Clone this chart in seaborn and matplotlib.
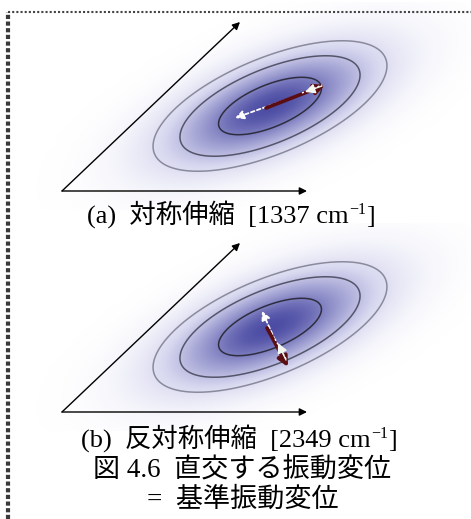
import numpy as np
import pandas as pd
import matplotlib.pyplot as plt
from matplotlib.colors import LinearSegmentedColormap
import seaborn as sns

sns.set_style('white')
plt.rcParams['font.family'] = ['Liberation Serif', 'Noto Sans CJK JP']

# データ (ピクセル座標, 上が y=0)
panel_labels = ['(a)', '(b)']
mode_names = ['対称伸縮', '反対称伸縮']
wavenumbers = [1337, 2349]
panel_shift = [0, 221]

axis_origin = (62, 191)
axis_x_tip = (307, 191)
axis_oblique_tip = (240, 22)

cloud_centres = [(270, 106), (270, 327)]
cloud_semi_axes = (125, 48)
cloud_angle = 22.5
contour_radii = [0.44, 0.77, 1.0]
contour_colors = ['#2e2e40', '#55556a', '#8a8a9c']

red_arrows = [((266, 108), (325, 85)), ((267, 328), (288, 367))]
white_arrows = [((302, 94), (235, 118)), ((275, 340), (262, 311))]
white_tails = [((322, 86), (305, 92)), ((286, 360), (278, 343))]

caption_base = [223, 447]
caption_x = [231, 239]
figure_title = ['図 4.6  直交する振動変位', '=  基準振動変位']
figure_title_y = [470, 500]
figure_title_x = [242, 243]

# 枠線
frame = pd.DataFrame({'x': [8, 8, 471], 'y': [519, 12, 12]})

fig = plt.figure(figsize=(4.71, 5.19), dpi=100)
ax = fig.add_axes([0, 0, 1, 1])
ax.set_xlim(0, 471)
ax.set_ylim(519, 0)
ax.axis('off')
renderer = fig.canvas.get_renderer()

cmap = LinearSegmentedColormap.from_list('cloud', ['#ffffff', '#d4d4ee', '#9494cc', '#4c4ca4'])

xs = np.arange(30, 471, 1.0)
for i in range(2):
    cx, cy = cloud_centres[i]
    ys = np.arange(cy - 104, cy + 104, 1.0)
    X, Y = np.meshgrid(xs, ys)
    t = np.deg2rad(cloud_angle)
    dx, dy = X - cx, -(Y - cy)
    u = dx * np.cos(t) + dy * np.sin(t)
    v = -dx * np.sin(t) + dy * np.cos(t)
    r = np.sqrt((u / cloud_semi_axes[0]) ** 2 + (v / cloud_semi_axes[1]) ** 2)
    Z = np.exp(-(r / 0.85) ** 2)
    ax.pcolormesh(X, Y, Z, cmap=cmap, vmin=0, vmax=1, shading='auto', rasterized=True, zorder=1)
    ax.contour(X, Y, r, levels=contour_radii, colors=contour_colors, linewidths=1.1, zorder=2)

    s = panel_shift[i]
    o = (axis_origin[0], axis_origin[1] + s)
    for tip in [axis_x_tip, axis_oblique_tip]:
        ax.annotate('', xy=(tip[0], tip[1] + s), xytext=o,
                    arrowprops=dict(arrowstyle='-|>', lw=1.0, color='black',
                                    mutation_scale=11, shrinkA=0, shrinkB=0), zorder=3)

    # 変位ベクトル
    w0, w1 = white_arrows[i]
    ax.annotate('', xy=w1, xytext=w0,
                arrowprops=dict(arrowstyle='-|>', lw=1.3, color='white', linestyle=(0, (2, 1.5)),
                                mutation_scale=13, shrinkA=0, shrinkB=0), zorder=4)
    a0, a1 = red_arrows[i]
    ax.annotate('', xy=a1, xytext=a0,
                arrowprops=dict(arrowstyle='-|>', lw=2.6, color='#5a0d12',
                                mutation_scale=15, shrinkA=0, shrinkB=0), zorder=5)
    t0, t1 = white_tails[i]
    ax.plot([w0[0], t0[0]], [w0[1] - 1, t0[1] - 1],
            color='white', lw=1.0, ls=(0, (1.5, 1.5)), zorder=6)
    ax.annotate('', xy=t1, xytext=t0,
                arrowprops=dict(arrowstyle='-|>', lw=1.0, color='#f2f6ee',
                                mutation_scale=15, shrinkA=0, shrinkB=0), zorder=6)

    # キャプション (上付き -1 を別に配置)
    parts = [(f'{panel_labels[i]}  {mode_names[i]}  [{wavenumbers[i]} cm', 19, 0),
             ('\u22121', 11.5, -9), (']', 19, 0)]
    widths = []
    for txt, fs, dy_ in parts:
        tmp = ax.text(0, 0, txt, fontsize=fs)
        widths.append(tmp.get_window_extent(renderer).width)
        tmp.remove()
    x = caption_x[i] - sum(widths) / 2
    for (txt, fs, dy_), w in zip(parts, widths):
        ax.text(x, caption_base[i] + dy_, txt, fontsize=fs, ha='left', va='baseline',
                color='black', zorder=7)
        x += w

for k in range(2):
    ax.text(figure_title_x[k], figure_title_y[k], figure_title[k],
            fontsize=19.5, ha='center', va='center', color='black', zorder=7)

sns.lineplot(data=frame.iloc[1:], x='x', y='y', estimator=None, sort=False, ax=ax,
             color='#444444', lw=1.5, linestyle=(0, (1, 1)))
sns.lineplot(data=frame.iloc[:2], x='x', y='y', estimator=None, sort=False, ax=ax,
             color='#3a3a3a', lw=3, linestyle=(0, (1, 0.6)))
ax.set_xlim(0, 471)
ax.set_ylim(519, 0)
ax.axis('off')

plt.savefig('out.png', dpi=100)
